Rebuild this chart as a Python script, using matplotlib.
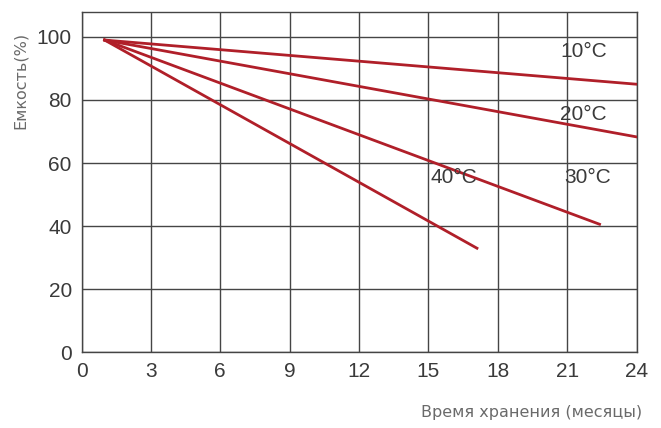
import numpy as np
import matplotlib.pyplot as plt

# Data
months_10 = [1, 24]
capacity_10 = [99, 85]
months_20 = [1, 24]
capacity_20 = [99, 68.3]
months_30 = [1, 22.4]
capacity_30 = [99, 40.6]
months_40 = [1, 17.1]
capacity_40 = [99, 33]

series_labels = ['10°C', '20°C', '30°C', '40°C']
label_pos = [(21.7, 95.5), (21.7, 75.5), (21.9, 55.5), (16.1, 55.5)]

x_ticks = np.arange(0, 25, 3)
y_ticks = np.arange(0, 101, 20)

line_color = '#b01f29'
grid_color = '#454545'
text_color = '#3a3a3a'

fig = plt.figure(figsize=(6.61, 4.28), dpi=100)
ax = fig.add_axes([0.1233, 0.1769, 0.8397, 0.7958])

for xs, ys in [(months_10, capacity_10), (months_20, capacity_20),
               (months_30, capacity_30), (months_40, capacity_40)]:
    ax.plot(xs, ys, color=line_color, linewidth=2, zorder=3)

for lbl, (lx, ly) in zip(series_labels, label_pos):
    ax.text(lx, ly, lbl, ha='center', va='center', fontsize=15,
            color=text_color, family='Liberation Sans', zorder=4)

ax.set_xlim(0, 24)
ax.set_ylim(0, 108)
ax.set_xticks(x_ticks)
ax.set_yticks(y_ticks)
ax.grid(True, color=grid_color, linewidth=1)
ax.set_axisbelow(True)
for s in ax.spines.values():
    s.set_color(grid_color)
    s.set_linewidth(1)
ax.tick_params(length=0, pad=7, labelsize=15, colors=text_color)
for t in ax.get_xticklabels() + ax.get_yticklabels():
    t.set_family('Liberation Sans')

fig.text(20 / 661, 1 - 80 / 428, 'Емкость(%)', rotation=90, ha='center', va='center',
         fontsize=11.5, color='#6a6a6a', family='DejaVu Sans')
fig.text(532 / 661, 1 - 413 / 428, 'Время хранения (месяцы)', ha='center', va='center',
         fontsize=11.5, color='#6a6a6a', family='DejaVu Sans')

fig.savefig('out.png', dpi=100)
